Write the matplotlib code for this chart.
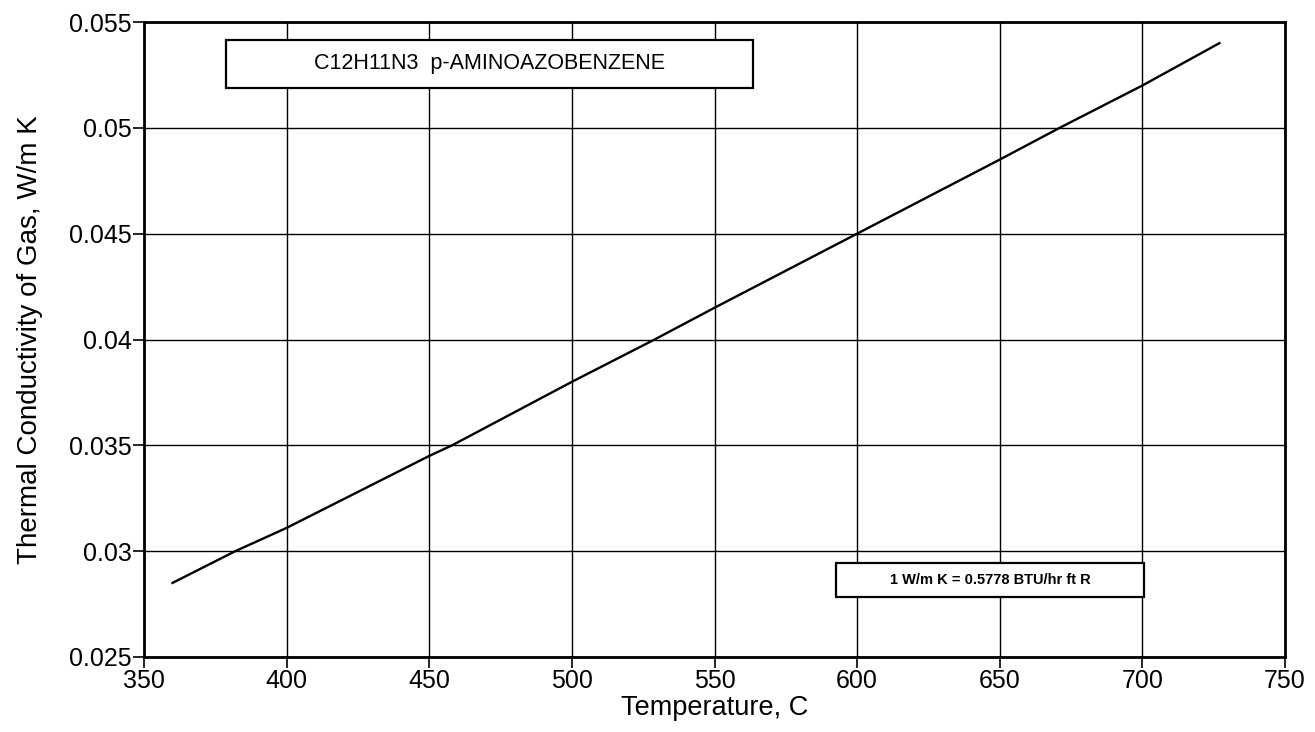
import matplotlib.pyplot as plt
from matplotlib.patches import Rectangle

plt.rcParams['font.family'] = ['Liberation Sans', 'DejaVu Sans']

temp = [360, 382, 400, 450, 458, 500, 529, 550, 600, 650, 671, 700, 727]
k_gas = [0.0285, 0.0300, 0.0311, 0.0345, 0.0350, 0.0380, 0.0400, 0.0415, 0.0450, 0.0485, 0.0500, 0.0520, 0.0540]

x_ticks = list(range(350, 751, 50))
y_ticks = [0.025, 0.03, 0.035, 0.04, 0.045, 0.05, 0.055]
y_labels = ['0.025', '0.03', '0.035', '0.04', '0.045', '0.05', '0.055']

fig = plt.figure(figsize=(13.15, 7.32), dpi=100)
ax = fig.add_axes([144 / 1315, 1 - 657 / 732, 1141 / 1315, 635 / 732])

ax.plot(temp, k_gas, color='black', lw=1.7)
ax.set_xlim(350, 750)
ax.set_ylim(0.025, 0.055)
ax.set_xticks(x_ticks, labels=[str(t) for t in x_ticks])
ax.set_yticks(y_ticks, labels=y_labels)
ax.grid(True, color='black', lw=1.0)
ax.tick_params(labelsize=18, direction='out', length=8, width=1.2, pad=1)
for s in ax.spines.values():
    s.set_linewidth(2)

ax.set_xlabel('Temperature, C', fontsize=19.5)
ax.set_ylabel('Thermal Conductivity of Gas, W/m K', fontsize=20)
ax.xaxis.label.set_va('baseline')
ax.yaxis.label.set_va('center')
ax.xaxis.set_label_coords(0.5, -0.091)
ax.yaxis.set_label_coords(-0.1, 0.5)

# name box
ax.add_patch(Rectangle((0.0719, 0.896), 0.4619, 0.0756, transform=ax.transAxes,
                       fc='white', ec='black', lw=1.6, zorder=3))
ax.text(0.3028, 0.9339, 'C12H11N3  p-AMINOAZOBENZENE', transform=ax.transAxes,
        ha='center', va='center', fontsize=15.5, zorder=4)

# conversion box
ax.add_patch(Rectangle((0.6065, 0.0945), 0.27, 0.0535, transform=ax.transAxes,
                       fc='white', ec='black', lw=1.6, zorder=3))
ax.text(0.7415, 0.1213, '1 W/m K = 0.5778 BTU/hr ft R', transform=ax.transAxes,
        ha='center', va='center', fontsize=10.5, fontweight='bold', zorder=4)

fig.savefig('out.png', dpi=100)
